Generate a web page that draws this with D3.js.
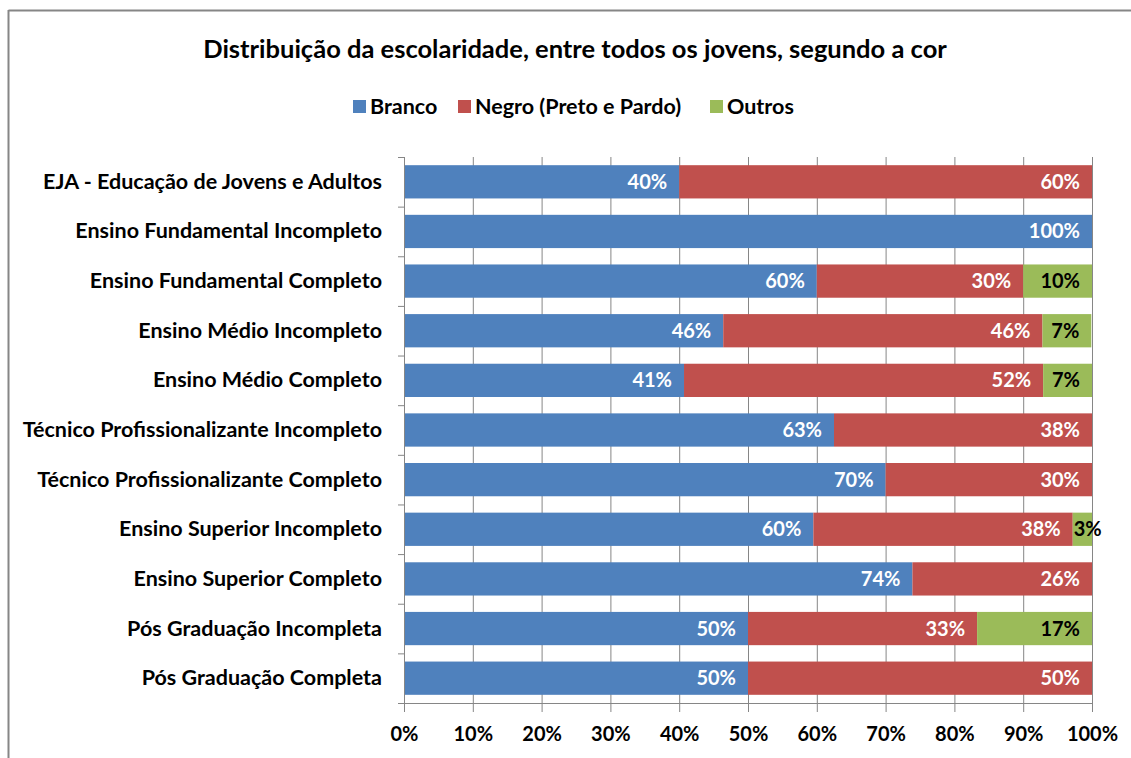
<!DOCTYPE html>
<html>
<head>
<meta charset="utf-8">
<script src="https://cdn.jsdelivr.net/npm/d3@7"></script>
<style>
  body { margin: 0; background: #fff; }
  svg { display: block; font-family: Lato, "Open Sans", sans-serif; }
</style>
</head>
<body>
<svg id="chart" width="1131" height="758"></svg>
<script>
// data
var categories = [
    "EJA - Educação de Jovens e Adultos",
    "Ensino Fundamental Incompleto",
    "Ensino Fundamental Completo",
    "Ensino Médio Incompleto",
    "Ensino Médio Completo",
    "Técnico Profissionalizante Incompleto",
    "Técnico Profissionalizante Completo",
    "Ensino Superior Incompleto",
    "Ensino Superior Completo",
    "Pós Graduação Incompleta",
    "Pós Graduação Completa"
];
var branco = [40, 100, 60, 46.4, 40.7, 62.5, 70, 59.5, 73.9, 50, 50];
var negro  = [60, 0, 30, 46.4, 52.2, 37.5, 30, 37.7, 26.1, 33.3, 50];
var outros = [0, 0, 10, 7.1, 7.1, 0, 0, 2.8, 0, 16.7, 0];
var seriesNames = ["Branco", "Negro (Preto e Pardo)", "Outros"];
var seriesColors = ["#4F81BD", "#C0504D", "#9BBB59"];
var xTicks = [0, 10, 20, 30, 40, 50, 60, 70, 80, 90, 100];

var svg = d3.select("#chart");
var plotL = 404, plotR = 1092, plotT = 157, plotB = 703;

// chart frame (only top and left edges visible in the reference)
svg.append("line").attr("x1", 8.5).attr("x2", 1131).attr("y1", 10.5).attr("y2", 10.5)
    .style("stroke", "#868686").style("stroke-width", 2);
svg.append("line").attr("x1", 8.5).attr("x2", 8.5).attr("y1", 10).attr("y2", 758)
    .style("stroke", "#868686").style("stroke-width", 2);

svg.append("text")
    .attr("x", 575).attr("y", 58)
    .attr("text-anchor", "middle")
    .style("font-size", "25.5px").style("font-weight", "bold").style("fill", "#000")
    .text("Distribuição da escolaridade, entre todos os jovens, segundo a cor");

// legend
var legendX = [353, 458, 710];
seriesNames.forEach(function (name, i) {
    svg.append("rect")
        .attr("x", legendX[i]).attr("y", 100).attr("width", 13).attr("height", 13)
        .style("fill", seriesColors[i]);
    svg.append("text")
        .attr("x", legendX[i] + 17).attr("y", 114)
        .style("font-size", "21.5px").style("font-weight", "bold")
        .text(name);
});

var x = d3.scaleLinear().domain([0, 100]).range([plotL, plotR]);
var y = d3.scaleBand().domain(categories).range([plotT, plotB]).paddingInner(0.33).paddingOuter(0.165);

// gridlines
svg.append("g").selectAll("line").data(xTicks.slice(1))
    .join("line")
    .attr("x1", function (d) { return x(d) + 0.5; })
    .attr("x2", function (d) { return x(d) + 0.5; })
    .attr("y1", plotT).attr("y2", plotB)
    .style("stroke", "#868686").style("stroke-width", 1);

// stacked bars
var rows = categories.map(function (c, i) {
    return { cat: c, vals: [branco[i], negro[i], outros[i]] };
});
var segs = [];
rows.forEach(function (r) {
    var x0 = 0;
    r.vals.forEach(function (v, k) {
        if (v > 0) segs.push({ cat: r.cat, k: k, x0: x0, x1: x0 + v, v: v });
        x0 += v;
    });
});

svg.append("g").selectAll("rect").data(segs)
    .join("rect")
    .attr("x", function (d) { return x(d.x0); })
    .attr("width", function (d) { return x(d.x1) - x(d.x0); })
    .attr("y", function (d) { return y(d.cat); })
    .attr("height", y.bandwidth())
    .style("fill", function (d) { return seriesColors[d.k]; });

svg.append("g").selectAll("text").data(segs)
    .join("text")
    .attr("x", function (d) {
        // the tiny 3% label spills past the bar end
        return d.v < 5 ? x(d.x0) + 1 : x(d.x1) - 12;
    })
    .attr("y", function (d) { return y(d.cat) + y.bandwidth() / 2 + 7; })
    .attr("text-anchor", function (d) { return d.v < 5 ? "start" : "end"; })
    .style("font-size", "20px").style("font-weight", "bold")
    .style("fill", function (d) { return d.k == 2 ? "#000" : "#fff"; })
    .text(function (d) { return Math.round(d.v) + "%"; });

// axes
var xAxis = d3.axisBottom(x).tickValues(xTicks).tickFormat(function (d) { return d + "%"; })
    .tickSize(9).tickSizeOuter(0).tickPadding(15);
var gx = svg.append("g").attr("transform", "translate(0," + plotB + ")").call(xAxis);
gx.select(".domain").style("stroke", "#868686");
gx.selectAll(".tick line").style("stroke", "#868686");
gx.selectAll("text").style("font-size", "20px").style("font-weight", "bold")
    .style("font-family", "Lato, sans-serif").style("fill", "#000");

var bandStep = (plotB - plotT) / categories.length;
var yAxis = svg.append("g");
yAxis.append("line").attr("x1", plotL + 0.5).attr("x2", plotL + 0.5).attr("y1", plotT).attr("y2", plotB)
    .style("stroke", "#868686");
yAxis.selectAll("line.tk").data(d3.range(categories.length + 1))
    .join("line").attr("class", "tk")
    .attr("x1", plotL - 6).attr("x2", plotL)
    .attr("y1", function (i) { return plotT + i * bandStep + 0.5; })
    .attr("y2", function (i) { return plotT + i * bandStep + 0.5; })
    .style("stroke", "#868686");
yAxis.selectAll("text.lbl").data(categories)
    .join("text").attr("class", "lbl")
    .attr("x", 382)
    .attr("y", function (d) { return y(d) + y.bandwidth() / 2 + 7; })
    .attr("text-anchor", "end")
    .style("font-size", "21.5px").style("font-weight", "bold")
    .text(function (d) { return d; });
</script>
</body>
</html>
